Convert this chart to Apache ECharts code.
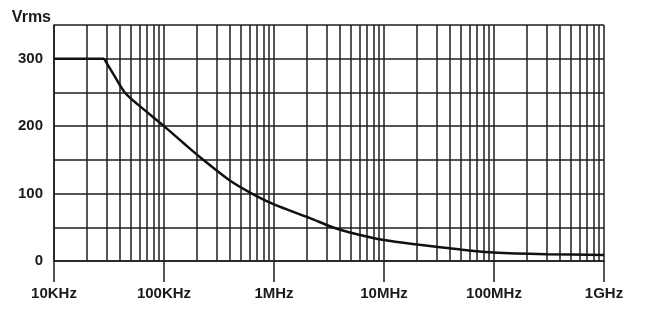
<!DOCTYPE html>
<html>
<head>
<meta charset="utf-8">
<script src="https://cdn.jsdelivr.net/npm/echarts@6/dist/echarts.min.js"></script>
<style>
  html, body { margin: 0; padding: 0; background: #fff; }
  #chart { width: 652px; height: 313px; }
</style>
</head>
<body>
<div id="chart"></div>
<script>
// frequency (Hz) and max voltage (Vrms)
const freqHz = [1e4, 2.85e4, 3.5e4, 4.4e4, 6e4, 1e5, 1.5e5, 2.2e5, 4e5, 6.3e5, 1e6, 2.1e6, 3.4e6, 5e6, 1e7, 2.1e7, 5e7, 1e8, 3e8, 1e9];
const vrms = [300, 300, 276, 250, 230, 200, 175, 152, 119, 100, 84, 64, 50, 42, 31, 24, 17, 12.5, 10, 9];
const kneeIndex = 1; // flat up to here, then the roll-off curve

const xTickLabels = { 1e4: '10KHz', 1e5: '100KHz', 1e6: '1MHz', 1e7: '10MHz', 1e8: '100MHz', 1e9: '1GHz' };
const yTickLabels = [0, 100, 200, 300];

// 2..9 sub-decade grid lines
const minorLines = [];
for (let d = 4; d < 9; d++) {
  for (let k = 2; k <= 9; k++) minorLines.push({ xAxis: k * Math.pow(10, d) });
}

const points = freqHz.map((f, i) => [f, vrms[i]]);
const gridColor = '#1e1e1e';
const font = 'Liberation Sans, Arial, sans-serif';
const chart = echarts.init(document.getElementById('chart'));
chart.setOption({
  animation: false,
  grid: { left: 54, right: 48, top: 25, bottom: 52 },
  xAxis: {
    type: 'log',
    logBase: 10,
    min: 1e4,
    max: 1e9,
    axisLine: { show: true, onZero: false, lineStyle: { color: gridColor, width: 1.5 } },
    axisTick: { show: true, length: 21, lineStyle: { color: gridColor, width: 1.5 } },
    splitLine: { show: true, lineStyle: { color: gridColor, width: 1.5 } },
    axisLabel: {
      margin: 25,
      color: '#1a1a1a',
      fontSize: 15,
      fontWeight: 'bold',
      fontFamily: font,
      formatter: v => xTickLabels[Math.round(v)] || ''
    }
  },
  yAxis: {
    type: 'value',
    min: 0,
    max: 350,
    interval: 50,
    name: 'Vrms',
    nameLocation: 'end',
    nameGap: 7,
    nameTextStyle: { color: '#1a1a1a', fontSize: 16, fontWeight: 'bold', fontFamily: font, align: 'right', verticalAlign: 'middle', padding: [0, 3, 0, 0] },
    axisLine: { show: true, lineStyle: { color: gridColor, width: 1.5 } },
    axisTick: { show: false },
    splitLine: { show: true, lineStyle: { color: gridColor, width: 1.5 } },
    axisLabel: {
      margin: 11,
      color: '#1a1a1a',
      fontSize: 15,
      fontWeight: 'bold',
      fontFamily: font,
      formatter: v => (yTickLabels.indexOf(v) >= 0 ? String(v) : '')
    }
  },
  series: [
    {
      type: 'line',
      data: points.slice(0, kneeIndex + 1),
      showSymbol: false,
      lineStyle: { color: '#111', width: 2.5 },
      z: 5,
      markLine: {
        silent: true,
        symbol: 'none',
        label: { show: false },
        lineStyle: { color: gridColor, width: 1.5, type: 'solid' },
        data: minorLines
      }
    },
    {
      type: 'line',
      data: points.slice(kneeIndex),
      showSymbol: false,
      smooth: 0.3,
      lineStyle: { color: '#111', width: 2.5 },
      z: 5
    }
  ]
});
</script>
</body>
</html>
